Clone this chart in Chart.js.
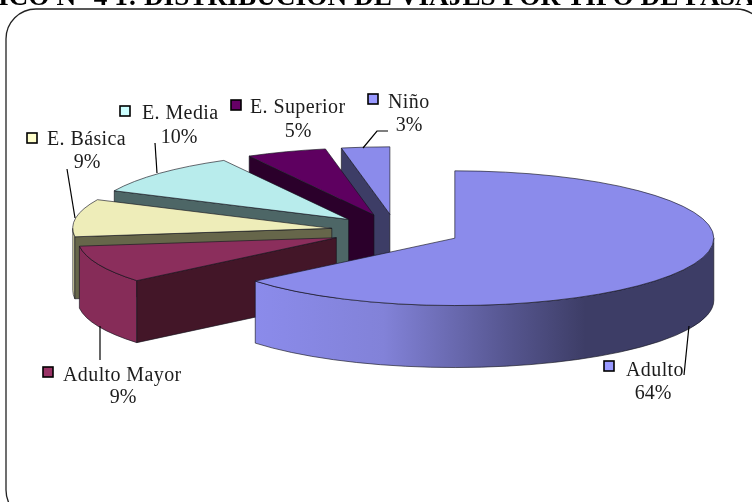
<!DOCTYPE html>
<html><head><meta charset="utf-8">
<style>html,body{margin:0;padding:0;background:#fff;overflow:hidden}canvas{display:block}</style>
<script src="https://cdn.jsdelivr.net/npm/chart.js@4"></script>
</head><body><canvas id="c" width="752" height="502"></canvas>
<script>
const titleText = 'ICO N° 4 1: DISTRIBUCIÓN DE VIAJES POR TIPO DE PASA';
const categories = ['Adulto','Adulto Mayor','E. Básica','E. Media','E. Superior','Niño'];
const values = [64,9,9,10,5,3];
const topColors = ['#8B8BEB','#8B2E5C','#EEEDB9','#B8ECEC','#5E0060','#8B8BEB'];
const wallColors = ['#3D3D66','#431628','#66664A','#4D6666','#2B002B','#3D3D66'];
const rimColors = [null,'#862C58','#DEDDAC','#A8DCDC','#4C004E','#7C7CD2'];
const keyColors = ['#9999FF','#993366','#FFFFCC','#CCFFFF','#660066','#9999FF'];
// label layout: key x,y; name x,baseline; percent centre x,baseline
const labelLayout = [
 [604,361,626,376,653,399],[43,367,63,381,123,403],[27,133,47,145,87,168],
 [120,106,142,119,179,143],[231,100,250,113,298,137],[368,94,388,108,409,131]];
const leaders = [
 [[689,326],[684,375]],[[100,326],[100,360]],[[67,169],[75,218]],
 [[155,143],[157,173]],[],[[363,148],[377,131],[388,131]]];
const SQUASH = 0.26, DEPTH = 62, EXPLODE = 65, RADIUS = 259;
const LABEL_FONT = '20px "Liberation Serif"';

function rr(ctx,x,y,w,h,r){ctx.beginPath();ctx.roundRect(x,y,w,h,r);}

const pie3d = {
 id:'pie3d',
 beforeDatasetDraw(chart,args){
  const ctx = chart.ctx, arcs = chart.getDatasetMeta(args.index).data;
  for(let i=arcs.length-1;i>=0;i--){
   const el = arcs[i], R = el.outerRadius;
   const a0 = el.startAngle, a1 = el.endAngle, mid=(a0+a1)/2;
   const dx = Math.cos(mid)*EXPLODE, dy = SQUASH*Math.sin(mid)*EXPLODE;
   const cx = el.x+dx, cy = el.y+dy;
   const px = a=>cx+R*Math.cos(a), py = a=>cy+SQUASH*R*Math.sin(a);
   ctx.save();
   ctx.lineWidth = 0.8; ctx.strokeStyle='rgba(20,20,30,.8)'; ctx.lineJoin='round';
   const wall = a=>{
    ctx.beginPath();ctx.moveTo(cx,cy);ctx.lineTo(px(a),py(a));
    ctx.lineTo(px(a),py(a)+DEPTH);ctx.lineTo(cx,cy+DEPTH);ctx.closePath();
    ctx.fillStyle=wallColors[i];ctx.fill();ctx.stroke();
   };
   if(Math.sin(a1+Math.PI/2)>0.01) wall(a1);
   const from = Math.max(a0,0), to = Math.min(a1,Math.PI);
   if(to>from){
    ctx.beginPath();
    ctx.ellipse(cx,cy,R,SQUASH*R,0,from,to);
    ctx.ellipse(cx,cy+DEPTH,R,SQUASH*R,0,to,from,true);
    ctx.closePath();
    if(rimColors[i]) ctx.fillStyle=rimColors[i];
    else{
     const x0=px(to), x1=px(from), g=ctx.createLinearGradient(x0,0,x1,0);
     g.addColorStop(0,topColors[i]);g.addColorStop(0.28,'#8282D8');
     g.addColorStop(0.55,'#565690');g.addColorStop(0.72,wallColors[i]);g.addColorStop(1,wallColors[i]);
     ctx.fillStyle=g;
    }
    ctx.fill();ctx.stroke();
   }
   if(Math.sin(a0-Math.PI/2)>0.01) wall(a0);
   // top face: the library's own arc, moved out and squashed
   ctx.save();
   ctx.translate(dx,cy);ctx.scale(1,SQUASH);ctx.translate(0,-el.y);
   el.draw(ctx);
   ctx.restore();
   ctx.beginPath();ctx.moveTo(cx,cy);ctx.ellipse(cx,cy,R,SQUASH*R,0,a0,a1);ctx.closePath();ctx.stroke();
   ctx.restore();
  }
  return false;
 },
 beforeDraw(chart){
  const ctx=chart.ctx;ctx.save();
  ctx.font='bold 27.3px "Liberation Serif"';ctx.fillStyle='#000';ctx.textAlign='left';ctx.textBaseline='alphabetic';
  ctx.fillText(titleText,-2,5);
  rr(ctx,6,9,760,511,30);ctx.lineWidth=1.3;ctx.strokeStyle='#222';ctx.stroke();
  ctx.restore();
 },
 afterDraw(chart){
  const ctx=chart.ctx;ctx.save();
  ctx.font=LABEL_FONT;ctx.fillStyle='#1c1c1c';ctx.textBaseline='alphabetic';
  categories.forEach((name,i)=>{
   const [kx,ky,tx,ty,px,py]=labelLayout[i];
   ctx.fillStyle=keyColors[i];ctx.strokeStyle='#000';ctx.lineWidth=1.6;
   ctx.fillRect(kx,ky,10,10);ctx.strokeRect(kx,ky,10,10);
   ctx.fillStyle='#1c1c1c';
   ctx.textAlign='left';ctx.letterSpacing='0.4px';ctx.fillText(name,tx,ty);
   ctx.textAlign='center';ctx.letterSpacing='0px';ctx.fillText(values[i]+'%',px,py);
   const L=leaders[i];
   if(L.length){ctx.beginPath();L.forEach((p,j)=>j?ctx.lineTo(p[0],p[1]):ctx.moveTo(p[0],p[1]));
    ctx.strokeStyle='#000';ctx.lineWidth=1.2;ctx.stroke();}
  });
  ctx.restore();
 }
};

new Chart(document.getElementById('c'),{
 type:'pie',
 data:{labels:categories,datasets:[{data:values,backgroundColor:topColors,borderWidth:0}]},
 options:{
  responsive:false,animation:false,radius:RADIUS,
  layout:{padding:{left:40,bottom:40}},
  plugins:{legend:{display:false},tooltip:{enabled:false},title:{display:false}}
 },
 plugins:[pie3d]
});
</script></body></html>
